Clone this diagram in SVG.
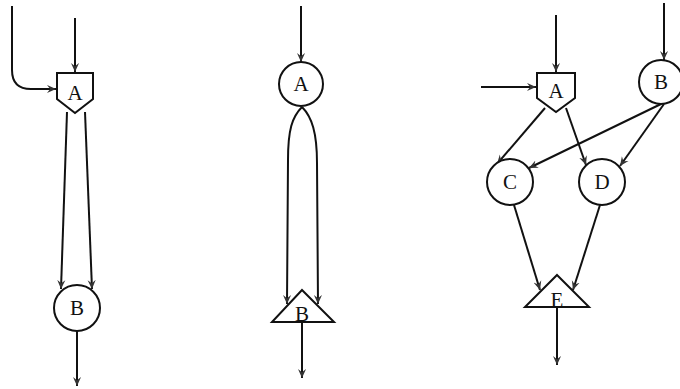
<svg xmlns="http://www.w3.org/2000/svg" width="680" height="389" viewBox="0 0 680 389">
<style>
.n{fill:#fff;stroke:#111;stroke-width:2}
.e{fill:none;stroke:#111;stroke-width:2;marker-end:url(#ah)}
.t{font-family:"Liberation Serif","Times New Roman",serif;font-size:21px;fill:#111;text-anchor:middle}
</style>
<defs>
<marker id="ah" viewBox="0 0 10 10" refX="10" refY="5" markerWidth="9" markerHeight="9" markerUnits="userSpaceOnUse" orient="auto">
<path d="M0,0.5 L10,5 L0,9.5 L3.5,5 z" fill="#333"/>
</marker>
</defs>
<rect width="680" height="389" fill="#fff"/>
<g id="connectors">
<path class="e" d="M12,6 L12,70 Q12,89 31,89 L56,89"/>
<path class="e" d="M75,18 L75,72"/>
<path class="e" d="M67,112 L61,289"/>
<path class="e" d="M85,112 L92,289"/>
<path class="e" d="M77,331 L77,386"/>
<path class="e" d="M301,6 L301,62"/>
<path class="e" d="M302,107 C292,117 288,130 288,160 L287,304"/>
<path class="e" d="M302,107 C312,117 317,133 317,163 L318,304"/>
<path class="e" d="M302,322 L302,378"/>
<path class="e" d="M556,15 L556,72"/>
<path class="e" d="M481,87 L536,87"/>
<path class="e" d="M664,3 L664,60"/>
<path class="e" d="M545,108 L497,164"/>
<path class="e" d="M566,108 L586,165"/>
<path class="e" d="M661,104 L529,168"/>
<path class="e" d="M664,104 L620,166"/>
<path class="e" d="M514,205 L540,290"/>
<path class="e" d="M600,205 L573,290"/>
<path class="e" d="M557,307 L557,365"/>
</g>
<g id="L_A"><path class="n" d="M57,73 L93,73 L93,99 L75,113 L57,99 Z"/><text class="t" x="75" y="100">A</text></g>
<g id="L_B"><circle class="n" cx="77" cy="308" r="23"/><text class="t" x="77" y="315">B</text></g>
<g id="M_A"><circle class="n" cx="301" cy="84" r="22"/><text class="t" x="301" y="91">A</text></g>
<g id="M_B"><path class="n" d="M302,290 L334,322 L272,322 Z"/><text class="t" x="302" y="321">B</text></g>
<g id="R_A"><path class="n" d="M537,73 L575,73 L575,98 L556,112 L537,98 Z"/><text class="t" x="556" y="98">A</text></g>
<g id="R_B"><circle class="n" cx="661" cy="82" r="22"/><text class="t" x="661" y="89">B</text></g>
<g id="R_C"><circle class="n" cx="510" cy="182" r="23"/><text class="t" x="510" y="189">C</text></g>
<g id="R_D"><circle class="n" cx="602" cy="182" r="23"/><text class="t" x="602" y="189">D</text></g>
<g id="R_E"><path class="n" d="M557,275 L589,307 L525,307 Z"/><text class="t" x="557" y="307">E</text></g>
</svg>
